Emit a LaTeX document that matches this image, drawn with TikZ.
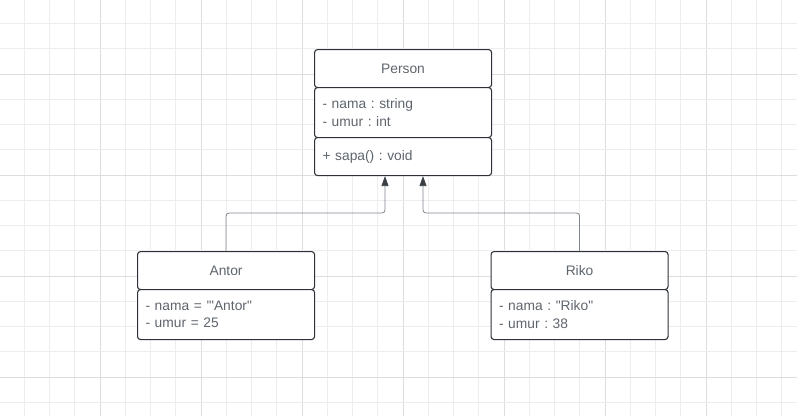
\documentclass[tikz,border=0pt]{standalone}
\usepackage{fontspec}
\newfontfamily\umlfont{Liberation Sans}
\usetikzlibrary{arrows.meta,calc}
\frenchspacing
\definecolor{gridminor}{HTML}{EDEDED}
\definecolor{gridmajor}{HTML}{DDDDDD}
\definecolor{boxline}{HTML}{2E3238}
\definecolor{txt}{HTML}{5F656D}
\definecolor{connc}{HTML}{80868E}
\definecolor{arrowc}{HTML}{3A4048}
\tikzset{
  umlbox/.style={draw=boxline, line width=1.1pt, fill=white, rounded corners=3pt,
    text=txt, font=\umlfont\fontsize{13.8}{17.4}\selectfont\frenchspacing},
  headbox/.style={umlbox, minimum width=177pt, minimum height=38pt, inner sep=0pt, anchor=north west},
  bodybox/.style={umlbox, text width=161pt, inner xsep=8pt, inner ysep=0pt, align=left, anchor=north west},
  conn/.style={draw=connc, line width=0.8pt, rounded corners=3pt,
    -{Triangle[length=10pt,width=7pt,fill=arrowc,color=arrowc]}}
}
\begin{document}
\begin{tikzpicture}[x=1pt,y=-1pt]
\useasboundingbox (0,0) rectangle (797,416);
\fill[white] (0,0) rectangle (797,416);
% grid
\foreach \k in {1,...,31}{
  \pgfmathsetmacro{\gx}{-1+25.25*\k}
  \pgfmathtruncatemacro{\m}{mod(\k,4)}
  \ifnum\m=0
    \draw[gridmajor, line width=0.8pt] (\gx,0) -- (\gx,416);
  \else
    \draw[gridminor, line width=0.8pt] (\gx,0) -- (\gx,416);
  \fi
}
\foreach \k in {1,...,16}{
  \pgfmathsetmacro{\gy}{-1.75+25.25*\k}
  \pgfmathtruncatemacro{\m}{mod(\k,4)}
  \ifnum\m=3
    \draw[gridmajor, line width=0.8pt] (0,\gy) -- (797,\gy);
  \else
    \draw[gridminor, line width=0.8pt] (0,\gy) -- (797,\gy);
  \fi
}
% Person
\node[headbox] (ph) at (314,49) {Person};
\node[bodybox, minimum height=50pt] (pa) at (314,87) {- nama : string\\- umur : int};
\node[bodybox, minimum height=38pt] (pm) at (314,137) {+ sapa() : void};
% Antor
\node[headbox] (ah) at (137,251) {Antor};
\node[bodybox, minimum height=50pt] (aa) at (137,289) {- nama = '"Antor"\\- umur = 25};
% Riko
\node[headbox] (rh) at (490.5,251) {Riko};
\node[bodybox, minimum height=50pt] (ra) at (490.5,289) {- nama : "Riko"\\- umur : 38};
% connectors
\coordinate (pinL) at ($(pm.south west)+(71,0)$);
\coordinate (pinR) at ($(pm.south west)+(109,0)$);
\draw[conn] (ah.north) -- ++(0,-38) -| (pinL);
\draw[conn] (rh.north) -- ++(0,-38) -| (pinR);
\end{tikzpicture}
\end{document}
